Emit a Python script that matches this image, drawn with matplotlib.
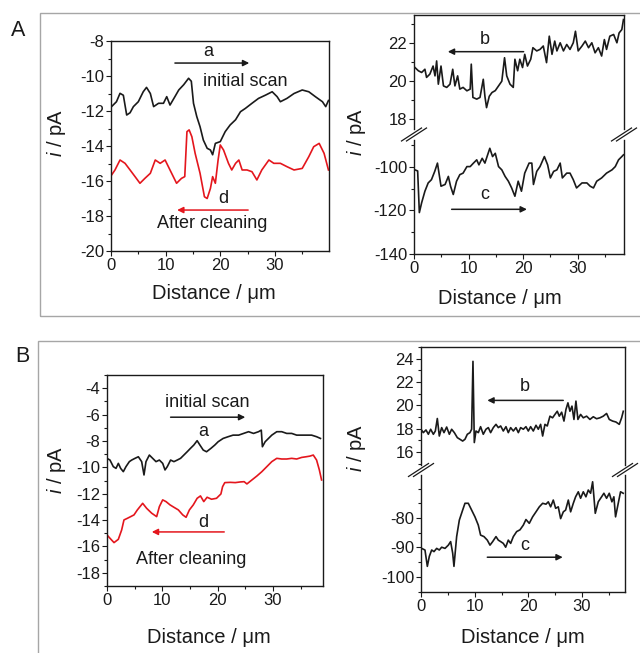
import matplotlib
matplotlib.use('Agg')
from matplotlib import pyplot as plt
from matplotlib.lines import Line2D
from matplotlib.patches import Rectangle
from matplotlib.ticker import MultipleLocator, FixedLocator

plt.rcParams['font.family'] = ['Liberation Sans', 'DejaVu Sans']
plt.rcParams['axes.unicode_minus'] = False
plt.rcParams['mathtext.fontset'] = 'custom'
plt.rcParams['mathtext.it'] = 'Liberation Sans:italic'
plt.rcParams['mathtext.rm'] = 'Liberation Sans'

RED = '#e4161d'
INK = '#1a1a1a'

# ---- panel A, left: initial scan (a) and after cleaning (d) ----
a1_x = [0.1, 1.0, 1.65, 2.26, 2.87, 3.49, 4.1, 5.0, 5.9, 6.5, 7.2, 7.8, 8.7, 9.6, 10.2, 10.8,
        11.7, 12.4, 13.3, 14.2, 14.7, 15.1, 15.7, 16.3, 16.9, 17.6, 18.2, 18.6, 19.1, 20.0,
        20.9, 21.8, 22.8, 23.7, 24.6, 25.8, 27.0, 28.3, 29.5, 30.4, 31.0, 32.2, 33.5, 35.0,
        36.2, 37.4, 38.7, 39.3, 39.8]
a1_y = [-11.75, -11.47, -10.99, -11.1, -12.23, -12.1, -11.75, -11.47, -10.9, -10.65, -11.0,
        -11.75, -11.56, -11.56, -11.18, -11.66, -11.18, -10.8, -10.5, -10.13, -10.3, -11.56,
        -12.32, -12.9, -13.66, -14.13, -14.23, -14.5, -13.85, -13.75, -13.18, -12.8, -12.5,
        -12.04, -11.85, -11.56, -11.28, -11.09, -10.9, -11.18, -11.47, -11.28, -11.0, -10.8,
        -10.9, -11.18, -11.47, -11.75, -11.4]
d1_x = [0.1, 0.73, 1.65, 2.57, 3.49, 4.4, 5.3, 6.2, 7.2, 8.1, 9.0, 9.9, 10.5, 11.4, 12.0,
        12.9, 13.5, 13.9, 14.3, 14.8, 15.4, 16.3, 17.1, 17.6, 18.2, 18.6, 19.1, 19.6, 20.0,
        20.6, 21.5, 22.1, 22.8, 23.4, 24.0, 24.9, 25.8, 26.7, 27.6, 28.9, 29.8, 31.0, 32.2,
        33.5, 35.0, 36.2, 37.1, 38.1, 39.0, 39.8]
d1_y = [-15.66, -15.37, -14.8, -14.99, -15.37, -15.75, -16.13, -15.85, -15.56, -14.8, -14.99,
        -14.8, -15.18, -15.75, -16.13, -15.85, -15.75, -13.18, -13.08, -13.47, -14.42, -15.56,
        -16.9, -17.0, -16.42, -15.75, -16.13, -14.8, -13.94, -14.23, -14.99, -15.37, -14.99,
        -14.8, -15.37, -15.37, -15.47, -15.94, -15.37, -14.8, -14.99, -14.99, -15.18, -15.37,
        -15.28, -14.61, -14.04, -13.85, -14.42, -15.37]

# ---- panel A, right: b (upper, positive) and c (lower, negative) ----
b1_x = [0.18, 0.8, 1.4, 2.0, 2.3, 2.9, 3.5, 3.85, 4.15, 4.46, 4.95, 5.4, 6.0, 6.6, 7.1, 7.5,
        8.0, 8.4, 9.0, 9.7, 10.3, 10.5, 10.8, 11.5, 12.1, 12.7, 13.0, 13.3, 13.8, 14.3, 14.9,
        15.5, 16.1, 16.6, 17.0, 17.6, 18.2, 18.5, 19.0, 19.4, 19.9, 20.3, 20.8, 21.4, 21.8,
        22.5, 23.1, 23.7, 24.3, 24.8, 25.3, 25.8, 26.2, 26.8, 27.4, 28.0, 28.6, 29.2, 29.6,
        30.1, 30.8, 31.4, 32.0, 32.6, 33.2, 33.8, 34.4, 34.9, 35.3, 35.9, 36.6, 37.2, 37.6,
        38.1, 38.4]
b1_y = [20.72, 20.55, 20.46, 20.63, 20.2, 20.37, 20.8, 20.28, 21.07, 19.84, 20.8, 19.75,
        19.67, 19.84, 20.63, 19.75, 20.28, 19.58, 19.67, 19.49, 19.58, 20.9, 19.14, 19.05,
        19.14, 20.1, 19.2, 18.6, 19.2, 19.4, 19.5, 19.75, 20.0, 21.24, 20.28, 19.84, 19.67,
        21.16, 20.55, 21.16, 20.72, 21.42, 20.8, 21.16, 21.77, 21.6, 21.68, 21.86, 20.98,
        22.38, 21.42, 22.12, 21.6, 22.03, 21.6, 21.94, 21.68, 22.03, 22.64, 21.6, 21.86,
        22.12, 21.77, 22.03, 21.5, 21.77, 21.33, 22.2, 21.68, 22.38, 22.47, 22.03, 22.55,
        22.73, 23.26]
c1_x = [0.18, 0.67, 0.98, 1.4, 2.0, 2.6, 3.2, 3.8, 4.3, 4.95, 5.7, 6.3, 6.7, 7.2, 7.8, 8.4,
        9.0, 9.7, 10.3, 10.9, 11.5, 11.9, 12.5, 13.0, 13.5, 13.9, 14.4, 14.9, 15.5, 16.1,
        16.7, 17.3, 17.9, 18.5, 19.1, 19.7, 20.3, 21.1, 21.6, 21.9, 22.5, 23.1, 23.9, 24.5,
        25.0, 25.6, 26.2, 26.8, 27.2, 28.0, 28.6, 29.2, 29.8, 30.8, 31.7, 32.3, 32.9, 33.5,
        34.4, 35.3, 36.3, 36.9, 37.5, 38.1, 38.4]
c1_y = [-101.4, -101.9, -121.0, -116.5, -111.2, -107.4, -105.9, -102.1, -98.3, -108.9,
        -108.1, -104.4, -108.9, -112.7, -106.6, -103.6, -102.9, -99.9, -99.9, -98.3, -96.8,
        -99.1, -96.1, -98.3, -94.5, -91.5, -95.3, -93.8, -99.9, -101.4, -104.4, -106.6,
        -109.7, -113.5, -106.6, -111.2, -102.9, -98.3, -98.3, -108.1, -102.1, -99.9, -95.3,
        -99.1, -105.1, -102.1, -101.4, -98.3, -105.1, -102.9, -102.9, -105.9, -109.7,
        -107.4, -107.4, -108.9, -109.7, -106.6, -105.1, -102.9, -101.4, -99.9, -96.8,
        -95.3, -94.5]

# ---- panel B, left ----
a2_x = [0.0, 0.54, 1.14, 1.63, 2.05, 2.47, 2.95, 3.43, 4.04, 4.46, 5.06, 5.67, 6.27, 6.69,
        7.05, 7.66, 8.26, 8.86, 9.47, 10.07, 10.49, 10.9, 11.5, 12.1, 12.7, 13.3, 13.9, 14.5,
        15.1, 15.7, 16.3, 16.8, 17.4, 18.0, 18.8, 19.5, 20.1, 21.0, 21.9, 22.8, 23.8, 24.7,
        25.6, 26.5, 27.4, 27.9, 28.1, 28.6, 29.2, 29.8, 30.7, 31.6, 32.5, 33.4, 34.3, 35.2,
        36.1, 37.0, 37.9, 38.6]
a2_y = [-9.32, -9.45, -9.95, -10.08, -9.7, -10.08, -10.33, -9.95, -9.57, -9.45, -9.32, -9.2,
        -9.57, -10.58, -9.57, -9.07, -9.32, -9.57, -9.45, -9.7, -10.2, -9.95, -9.45, -9.57,
        -9.45, -9.32, -9.07, -8.82, -8.56, -8.31, -7.98, -8.31, -8.69, -8.82, -8.56, -8.31,
        -8.06, -7.81, -7.68, -7.56, -7.56, -7.43, -7.3, -7.43, -7.3, -7.18, -8.44, -8.06,
        -7.81, -7.56, -7.3, -7.3, -7.43, -7.43, -7.56, -7.56, -7.56, -7.56, -7.68, -7.81]
d2_x = [0.0, 0.54, 1.27, 2.05, 2.65, 3.07, 3.67, 4.28, 4.88, 5.49, 6.45, 7.17, 8.08, 8.98,
        9.47, 10.07, 10.67, 11.4, 12.1, 12.9, 13.7, 14.3, 14.9, 15.6, 16.3, 16.9, 17.5, 18.1,
        18.9, 19.8, 20.6, 20.9, 21.3, 22.3, 23.2, 24.1, 24.8, 25.3, 26.2, 27.1, 28.0, 28.9,
        29.8, 30.7, 31.6, 32.5, 33.4, 34.3, 35.2, 36.0, 36.7, 37.3, 37.9, 38.4, 38.8]
d2_y = [-15.13, -15.38, -15.71, -15.46, -14.75, -13.99, -13.87, -13.74, -13.61, -13.23,
        -12.73, -13.11, -13.48, -13.74, -12.98, -12.47, -12.6, -12.85, -13.03, -13.23,
        -13.61, -13.79, -13.23, -12.85, -12.35, -12.17, -12.6, -12.27, -12.42, -12.35,
        -12.02, -11.47, -11.16, -11.14, -11.16, -11.11, -11.09, -11.26, -10.96, -10.66,
        -10.33, -9.95, -9.57, -9.32, -9.37, -9.37, -9.32, -9.37, -9.25, -9.2, -9.15, -9.07,
        -9.45, -10.2, -10.96]

# ---- panel B, right ----
b2_x = [0.0, 0.43, 0.93, 1.37, 1.8, 2.3, 2.67, 3.04, 3.41, 3.85, 4.28, 4.78, 5.28, 5.71,
        6.21, 6.77, 7.26, 7.76, 8.19, 8.63, 9.12, 9.43, 9.68, 9.93, 10.24, 10.68, 11.1, 11.6,
        12.1, 12.54, 12.97, 13.47, 13.97, 14.4, 14.84, 15.33, 15.83, 16.26, 16.7, 17.2,
        17.69, 18.13, 18.56, 19.06, 19.55, 19.99, 20.42, 20.92, 21.42, 21.85, 22.28, 22.66,
        23.09, 23.52, 24.02, 24.51, 24.95, 25.38, 25.76, 26.2, 26.63, 27.0, 27.37, 27.74,
        28.12, 28.49, 28.86, 29.23, 29.73, 30.23, 30.85, 31.47, 32.09, 32.71, 33.33, 33.95,
        34.57, 35.07, 35.69, 36.31, 36.93, 37.37, 37.68]
b2_y = [17.96, 17.67, 17.9, 17.53, 17.96, 17.53, 17.81, 18.88, 17.38, 18.1, 17.67, 18.15,
        17.53, 17.96, 17.67, 17.24, 17.1, 16.95, 17.1, 17.53, 17.67, 17.96, 23.77, 16.82,
        17.81, 17.67, 18.18, 17.53, 17.96, 18.1, 17.67, 18.1, 18.38, 18.1, 18.24, 17.81,
        18.18, 17.67, 18.1, 17.81, 18.1, 17.67, 18.1, 17.96, 18.18, 17.81, 18.18, 17.81,
        18.3, 17.96, 18.38, 17.38, 18.38, 18.24, 19.08, 18.94, 19.23, 19.5, 19.08, 19.42,
        18.66, 19.65, 20.22, 19.5, 19.94, 18.8, 20.37, 18.8, 19.23, 18.94, 19.08, 18.8,
        19.03, 18.86, 18.94, 19.08, 19.31, 18.8, 18.66, 18.58, 18.38, 18.94, 19.5]
c2_x = [0.12, 0.74, 1.18, 1.55, 1.99, 2.42, 2.92, 3.41, 3.85, 4.47, 5.09, 5.52, 5.9, 6.14,
        6.64, 7.14, 7.76, 8.19, 8.81, 9.43, 10.05, 10.67, 11.1, 11.73, 12.35, 12.85, 13.35,
        13.97, 14.4, 14.84, 15.33, 15.77, 16.26, 16.7, 17.2, 17.82, 18.44, 19.06, 19.55,
        20.17, 20.79, 21.42, 22.04, 22.66, 23.28, 23.71, 24.15, 24.64, 25.08, 25.57, 26.01,
        26.51, 26.94, 27.44, 27.87, 28.37, 28.8, 29.3, 29.73, 30.23, 30.72, 31.16, 31.59,
        31.97, 32.21, 32.46, 33.02, 33.64, 34.07, 34.57, 35.07, 35.56, 35.93, 36.24, 36.74,
        37.17, 37.67]
c2_y = [-90.3, -90.85, -96.4, -93.0, -90.85, -91.4, -90.3, -90.85, -89.9, -90.3, -89.2,
        -88.0, -91.9, -96.4, -86.3, -80.7, -77.3, -75.0, -75.0, -77.3, -79.6, -82.4, -85.8,
        -86.3, -87.5, -89.2, -88.0, -86.3, -87.5, -88.0, -88.6, -89.9, -87.5, -88.6, -86.3,
        -84.6, -84.0, -82.4, -80.5, -81.8, -79.6, -77.9, -76.2, -75.0, -75.3, -74.5, -76.2,
        -73.9, -76.7, -76.2, -80.2, -77.9, -77.3, -73.9, -77.9, -75.0, -72.8, -71.1, -73.3,
        -71.1, -72.8, -70.5, -71.6, -67.7, -72.8, -78.4, -74.5, -72.8, -71.6, -73.3, -71.6,
        -74.5, -72.8, -79.6, -75.0, -71.1, -71.6]

W, H = 640, 653
TICK_FS = 12
LAB_FS = 14.5
NOTE_FS = 13
fig = plt.figure(figsize=(W / 100, H / 100), dpi=100)


def box(px0, py_top, px1, py_bot):
    # figure-fraction rectangle from pixel edges
    return [px0 / W, 1 - py_bot / H, (px1 - px0) / W, (py_bot - py_top) / H]


def style(ax, bottom=True, top=True):
    ax.tick_params(which='both', direction='out', labelsize=TICK_FS, colors=INK, pad=1.5,
                   right=False, top=False)
    ax.tick_params(which='major', length=3.5, width=0.8)
    ax.tick_params(which='minor', length=2, width=0.8)
    for s in ax.spines.values():
        s.set_linewidth(1.0)
        s.set_color(INK)
    if not bottom:
        ax.spines['bottom'].set_visible(False)
        ax.tick_params(which='both', bottom=False, labelbottom=False)
    if not top:
        ax.spines['top'].set_visible(False)


def arrow(ax, x0, x1, y, color):
    ax.annotate('', xy=(x1, y), xytext=(x0, y),
                arrowprops=dict(arrowstyle='-|>', color=color, lw=1.1,
                                mutation_scale=9, shrinkA=0, shrinkB=0))


def note(ax, x, y, s, size=NOTE_FS):
    ax.text(x, y, s, fontsize=size, ha='center', va='center', color=INK)


def breaks(ax_up, ax_lo):
    pu = ax_up.get_position()
    pl = ax_lo.get_position()
    ym = (pu.y0 + pl.y1) / 2
    dx, dy, off = 10 / W, 6.5 / H, 2.5 / W
    for x in (pu.x0, pu.x1):
        for o in (-off, off):
            fig.add_artist(Line2D([x + o - dx, x + o + dx], [ym - dy, ym + dy],
                                  color=INK, lw=0.9))


# grey panel frames
fig.add_artist(Rectangle((40 / W, 1 - 316 / H), 0.99, 303 / H, transform=fig.transFigure,
                         fill=False, ec='#a6a6a6', lw=1.0))
fig.add_artist(Rectangle((38 / W, -0.05), 0.99, 1 - 341 / H + 0.05, transform=fig.transFigure,
                         fill=False, ec='#a6a6a6', lw=1.0))
fig.text(18 / W, 1 - 31 / H, 'A', fontsize=15.5, ha='center', va='center', color=INK)
fig.text(22 / W, 1 - 357 / H, 'B', fontsize=15.5, ha='center', va='center', color=INK)

# ---------- A left ----------
ax = fig.add_axes(box(111, 41, 329, 251))
ax.plot(a1_x, a1_y, color=INK, lw=1.2)
ax.plot(d1_x, d1_y, color=RED, lw=1.2)
ax.set_xlim(0, 39.9)
ax.set_ylim(-20, -8)
ax.xaxis.set_major_locator(MultipleLocator(10))
ax.xaxis.set_minor_locator(MultipleLocator(5))
ax.yaxis.set_major_locator(MultipleLocator(2))
ax.yaxis.set_minor_locator(MultipleLocator(1))
style(ax)
arrow(ax, 11.7, 25.3, -9.26, INK)
note(ax, 17.8, -8.6, 'a')
note(ax, 24.5, -10.3, 'initial scan')
arrow(ax, 25.1, 12.1, -17.66, RED)
note(ax, 20.6, -17.0, 'd')
note(ax, 18.5, -18.45, 'After cleaning')

# ---------- A right (broken axis) ----------
au = fig.add_axes(box(414, 15, 624, 129))
al = fig.add_axes(box(414, 140, 624, 254))
au.plot(b1_x, b1_y, color=INK, lw=1.2)
al.plot(c1_x, c1_y, color=INK, lw=1.2)
for a in (au, al):
    a.set_xlim(0, 38.5)
    a.xaxis.set_major_locator(MultipleLocator(10))
    a.xaxis.set_minor_locator(MultipleLocator(5))
au.set_ylim(17.47, 23.5)
au.yaxis.set_major_locator(MultipleLocator(2))
au.yaxis.set_minor_locator(MultipleLocator(1))
al.set_ylim(-140, -87.7)
al.yaxis.set_major_locator(MultipleLocator(20))
al.yaxis.set_minor_locator(MultipleLocator(10))
style(au, bottom=False)
style(al, top=False)
breaks(au, al)
arrow(au, 20.1, 6.2, 21.56, INK)
note(au, 12.9, 22.2, 'b')
arrow(al, 6.9, 20.7, -119.5, INK)
note(al, 12.9, -112.7, 'c')

# ---------- B left ----------
bx = fig.add_axes(box(107, 375, 323, 586))
bx.plot(a2_x, a2_y, color=INK, lw=1.2)
bx.plot(d2_x, d2_y, color=RED, lw=1.2)
bx.set_xlim(0, 39.06)
bx.set_ylim(-19, -3)
bx.xaxis.set_major_locator(MultipleLocator(10))
bx.xaxis.set_minor_locator(MultipleLocator(5))
bx.yaxis.set_major_locator(FixedLocator([-18, -16, -14, -12, -10, -8, -6, -4]))
bx.yaxis.set_minor_locator(MultipleLocator(1))
style(bx)
note(bx, 18.1, -5.06, 'initial scan')
arrow(bx, 11.5, 25.0, -6.2, INK)
note(bx, 17.4, -7.26, 'a')
arrow(bx, 21.2, 8.1, -14.9, RED)
note(bx, 17.4, -14.2, 'd')
note(bx, 15.3, -17.0, 'After cleaning')

# ---------- B right (broken axis) ----------
bu = fig.add_axes(box(421, 347, 625, 465))
bl = fig.add_axes(box(421, 475, 625, 592))
bu.plot(b2_x, b2_y, color=INK, lw=1.2)
bl.plot(c2_x, c2_y, color=INK, lw=1.2)
for a in (bu, bl):
    a.set_xlim(0, 38.0)
    a.xaxis.set_major_locator(MultipleLocator(10))
    a.xaxis.set_minor_locator(MultipleLocator(5))
bu.set_ylim(14.9, 25.0)
bu.yaxis.set_major_locator(MultipleLocator(2))
bu.yaxis.set_minor_locator(MultipleLocator(1))
bl.set_ylim(-105.1, -65.4)
bl.yaxis.set_major_locator(FixedLocator([-100, -90, -80]))
bl.yaxis.set_minor_locator(MultipleLocator(5))
style(bu, bottom=False)
style(bl, top=False)
breaks(bu, bl)
arrow(bu, 26.5, 12.35, 20.43, INK)
note(bu, 19.25, 21.65, 'b')
arrow(bl, 12.35, 26.4, -93.3, INK)
note(bl, 19.25, -89.2, 'c')

# axis labels, placed by pixel
for (px, py) in [(57, 133), (357, 132), (57, 470), (357, 448)]:
    fig.text(px / W, 1 - py / H, r'$\mathit{i}$ / pA', fontsize=LAB_FS, rotation=90,
             ha='center', va='center', color=INK)
for (px, py) in [(214, 299), (500, 304), (209, 643), (523, 643)]:
    fig.text(px / W, 1 - py / H, 'Distance / \u03bcm', fontsize=LAB_FS, ha='center',
             va='baseline', color=INK)

fig.savefig('out.png', dpi=100)
